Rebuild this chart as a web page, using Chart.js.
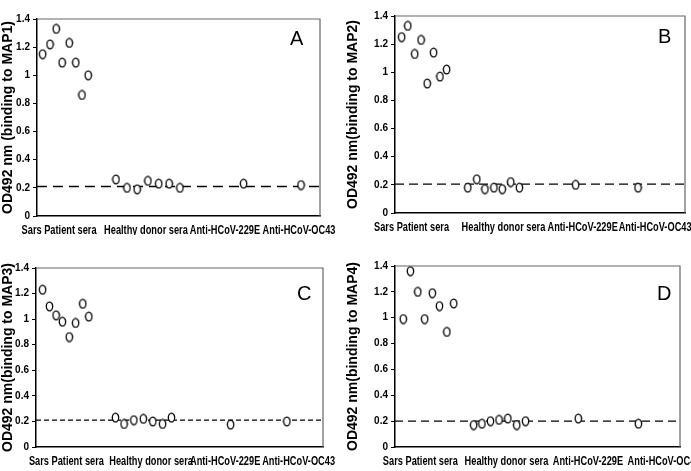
<!DOCTYPE html>
<html>
<head>
<meta charset="utf-8">
<script src="https://cdn.jsdelivr.net/npm/chart.js@4/dist/chart.umd.min.js"></script>
<style>
  body { margin: 0; background: #fff; }
  #wrap { position: relative; width: 691px; height: 471px; overflow: hidden; }
  canvas { position: absolute; }
</style>
</head>
<body>
<div id="wrap">
  <canvas id="panelA" width="345" height="235" style="left:0;top:0"></canvas>
  <canvas id="panelB" width="346" height="235" style="left:345px;top:0"></canvas>
  <canvas id="panelC" width="345" height="236" style="left:0;top:235px"></canvas>
  <canvas id="panelD" width="346" height="236" style="left:345px;top:235px"></canvas>
</div>
<script>
const groups = ["Sars Patient sera", "Healthy donor sera", "Anti-HCoV-229E", "Anti-HCoV-OC43"];
const yTicks = [0, 0.2, 0.4, 0.6, 0.8, 1, 1.2, 1.4];

// MAP1
const sarsA = [1.15, 1.22, 1.33, 1.09, 1.23, 1.09, 0.86, 1.0];
const healthyA = [0.26, 0.2, 0.19, 0.25, 0.23, 0.23, 0.2];
const hcov229eA = [0.23];
const oc43A = [0.22];
const cutoffA = 0.21;
const sarsXA = [2.0, 4.6, 6.8, 8.9, 11.4, 13.7, 15.9, 18.1];
const healthyXA = [27.9, 31.8, 35.4, 39.2, 43.0, 46.7, 50.5];
const otherXA = [73.0, 93.3];
const groupXA = [7.8, 38.5, 66.4, 92.6];

// MAP2
const sarsB = [1.25, 1.33, 1.13, 1.23, 0.92, 1.14, 0.97, 1.02];
const healthyB = [0.18, 0.24, 0.17, 0.18, 0.17, 0.22, 0.18];
const hcov229eB = [0.2];
const oc43B = [0.18];
const cutoffB = 0.205;
const sarsXB = [2.3, 4.4, 6.8, 9.0, 11.1, 13.3, 15.5, 17.8];
const healthyXB = [25.1, 28.2, 31.0, 34.1, 37.0, 39.9, 42.9];
const otherXB = [62.3, 83.8];
const groupXB = [5.7, 37.4, 64.7, 89.7];

// MAP3
const sarsC = [1.23, 1.1, 1.03, 0.98, 0.86, 0.97, 1.12, 1.02];
const healthyC = [0.23, 0.18, 0.21, 0.22, 0.2, 0.18, 0.23];
const hcov229eC = [0.175];
const oc43C = [0.2];
const cutoffC = 0.21;
const sarsXC = [2.3, 4.7, 7.0, 9.2, 11.6, 13.8, 16.3, 18.4];
const healthyXC = [27.7, 30.7, 34.1, 37.4, 40.7, 44.1, 47.2];
const otherXC = [67.8, 87.4];
const groupXC = [10.6, 40.1, 65.9, 91.5];

// MAP4
const sarsD = [0.99, 1.36, 1.2, 0.99, 1.19, 1.09, 0.89, 1.11];
const healthyD = [0.17, 0.18, 0.2, 0.21, 0.22, 0.17, 0.2];
const hcov229eD = [0.22];
const oc43D = [0.18];
const cutoffD = 0.2;
const sarsXD = [2.9, 5.4, 8.0, 10.4, 13.1, 15.6, 18.2, 20.6];
const healthyXD = [27.6, 30.5, 33.5, 36.5, 39.6, 42.7, 45.8];
const otherXD = [64.3, 85.4];
const groupXD = [8.9, 39.1, 67.7, 94.4];

const sans = '"Liberation Sans", Arial, sans-serif';

function ellipseMarker() {
  const c = document.createElement("canvas");
  c.width = 9;
  c.height = 11;
  const g = c.getContext("2d");
  g.beginPath();
  g.ellipse(4.5, 5.5, 3.2, 4.3, 0, 0, Math.PI * 2);
  g.fillStyle = "#fff";
  g.fill();
  g.lineWidth = 1.3;
  g.strokeStyle = "#000";
  g.stroke();
  return c;
}
const marker = ellipseMarker();

function pts(xs, ys) {
  return ys.map((y, i) => ({ x: xs[i], y }));
}

// draws the frame, the narrow group labels under the x axis and the panel letter
const framePlugin = {
  id: "frame",
  beforeDatasetsDraw(chart) {
    const { ctx, chartArea: a } = chart;
    ctx.save();
    ctx.strokeStyle = "#666";
    ctx.lineWidth = 1.2;
    ctx.beginPath();
    ctx.moveTo(a.left, a.top);
    ctx.lineTo(a.right, a.top);
    ctx.lineTo(a.right, a.bottom);
    ctx.stroke();
    ctx.restore();
  },
  afterDraw(chart, args, opts) {
    const ctx = chart.ctx;
    const xs = chart.scales.x;
    ctx.save();
    ctx.fillStyle = "#000";
    ctx.font = "bold 12px " + sans;
    ctx.textAlign = "center";
    ctx.textBaseline = "middle";
    xs.ticks.forEach((t, i) => {
      const px = xs.getPixelForValue(t.value);
      ctx.save();
      ctx.translate(px, chart.chartArea.bottom + 15);
      ctx.scale(0.77, 1);
      ctx.fillText(groups[i], 0, 0);
      ctx.restore();
    });
    ctx.font = "20px " + sans;
    ctx.textAlign = "left";
    ctx.textBaseline = "alphabetic";
    ctx.fillText(opts.letter, opts.lx, opts.ly);
    ctx.restore();
  },
};

function makePanel(p) {
  const canvas = document.getElementById(p.id);
  const W = canvas.width;
  const H = canvas.height;
  const xMax = 100;
  const points = [
    ...pts(p.sarsX, p.sars),
    ...pts(p.healthyX, p.healthy),
    ...pts([p.otherX[0]], p.e229),
    ...pts([p.otherX[1]], p.oc43),
  ];
  new Chart(canvas, {
    type: "scatter",
    data: {
      datasets: [
        {
          data: points,
          pointStyle: marker,
          pointRadius: 5,
          order: 0,
        },
        {
          type: "line",
          data: [
            { x: 0, y: p.cutoff },
            { x: xMax, y: p.cutoff },
          ],
          borderColor: "#000",
          borderWidth: 1.4,
          borderDash: p.dash,
          pointRadius: 0,
          fill: false,
          order: 1,
        },
      ],
    },
    options: {
      responsive: false,
      animation: false,
      devicePixelRatio: 1,
      layout: {
        padding: { left: 0, top: p.area.top, right: W - p.area.right, bottom: 0 },
      },
      scales: {
        x: {
          type: "linear",
          min: 0,
          max: xMax,
          afterBuildTicks: (s) => {
            s.ticks = p.groupX.map((v) => ({ value: v }));
          },
          afterFit: (s) => {
            s.height = H - p.area.bottom;
            s.paddingLeft = 0;
            s.paddingRight = 0;
          },
          ticks: { display: false },
          grid: { display: false, drawTicks: false },
          border: { color: "#000", width: 1.5 },
        },
        y: {
          min: 0,
          max: 1.4,
          afterBuildTicks: (s) => {
            s.ticks = yTicks.map((v) => ({ value: v }));
          },
          afterFit: (s) => {
            s.width = p.area.left;
            s.paddingTop = 0;
            s.paddingBottom = 0;
          },
          ticks: {
            padding: 3,
            color: "#000",
            font: { family: sans, size: 10, weight: "bold" },
            callback: (v) => String(v),
          },
          grid: { drawOnChartArea: false, tickLength: 4, color: "#000", lineWidth: 1 },
          border: { color: "#000", width: 1.5 },
          title: {
            display: true,
            text: p.yTitle,
            color: "#000",
            font: { family: sans, size: 14, weight: "bold" },
            padding: { top: 0, bottom: 0 },
          },
        },
      },
      plugins: {
        legend: { display: false },
        tooltip: { enabled: false },
        frame: { letter: p.letter, lx: p.letterAt[0], ly: p.letterAt[1] },
      },
    },
    plugins: [framePlugin],
  });
}

makePanel({
  id: "panelA", letter: "A", letterAt: [290, 45],
  yTitle: "OD492 nm (binding to MAP1)",
  area: { left: 37, top: 19, right: 320, bottom: 216 },
  dash: [10, 6],
  sars: sarsA, healthy: healthyA, e229: hcov229eA, oc43: oc43A, cutoff: cutoffA,
  sarsX: sarsXA, healthyX: healthyXA, otherX: otherXA, groupX: groupXA,
});
makePanel({
  id: "panelB", letter: "B", letterAt: [313, 43],
  yTitle: "OD492 nm(binding to MAP2)",
  area: { left: 50, top: 16, right: 340, bottom: 213 },
  dash: [9, 5],
  sars: sarsB, healthy: healthyB, e229: hcov229eB, oc43: oc43B, cutoff: cutoffB,
  sarsX: sarsXB, healthyX: healthyXB, otherX: otherXB, groupX: groupXB,
});
makePanel({
  id: "panelC", letter: "C", letterAt: [297, 65],
  yTitle: "OD492 nm(binding to MAP3)",
  area: { left: 36, top: 33, right: 323, bottom: 212 },
  dash: [5, 3],
  sars: sarsC, healthy: healthyC, e229: hcov229eC, oc43: oc43C, cutoff: cutoffC,
  sarsX: sarsXC, healthyX: healthyXC, otherX: otherXC, groupX: groupXC,
});
makePanel({
  id: "panelD", letter: "D", letterAt: [312, 65],
  yTitle: "OD492 nm(binding to MAP4)",
  area: { left: 50, top: 31, right: 335, bottom: 212 },
  dash: [8, 5],
  sars: sarsD, healthy: healthyD, e229: hcov229eD, oc43: oc43D, cutoff: cutoffD,
  sarsX: sarsXD, healthyX: healthyXD, otherX: otherXD, groupX: groupXD,
});
</script>
</body>
</html>
